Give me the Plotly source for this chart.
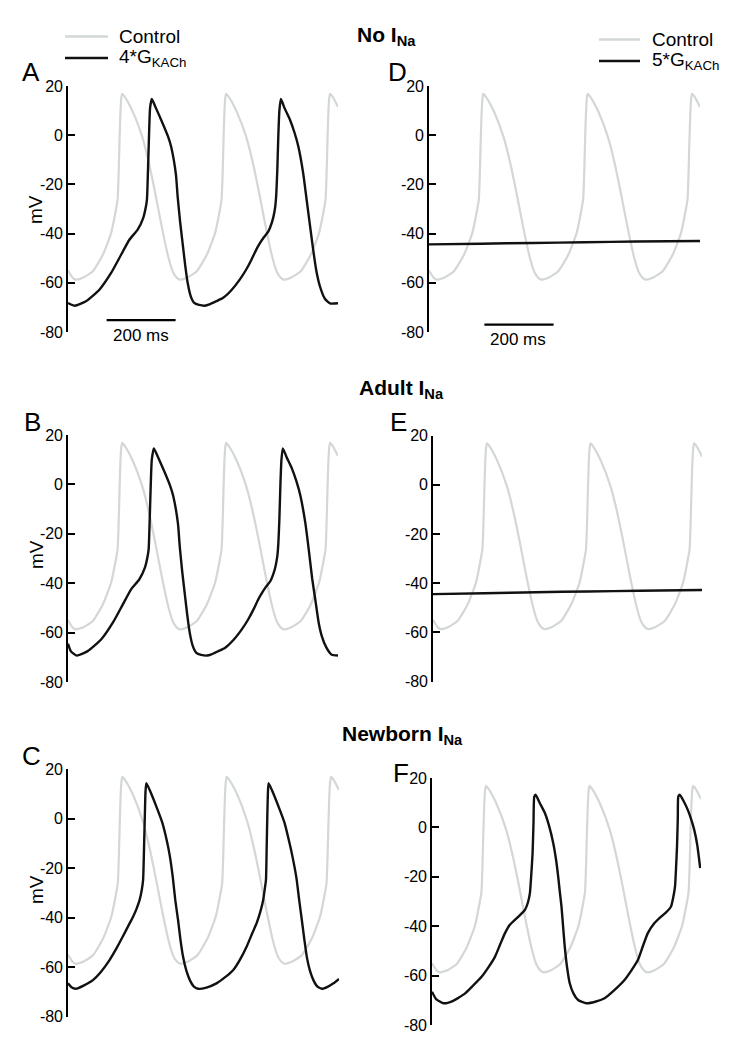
import plotly.graph_objects as go

# ---------------- data ----------------
# time in ms, membrane potential in mV
control_pts = [(0, -55), (14, -58), (23, -58.7), (45, -57.8), (72, -55.3), (101, -48.6), (125, -39.8),
               (139, -30.3), (144, -26), (147, -15), (149.5, -2), (152, 9), (154.5, 15), (157, 16.8),
               (165, 15.5), (188, 9.5), (216, -1), (235, -11.5), (255, -25), (266, -33), (276, -40),
               (290, -49), (304, -55.5), (316, -58), (325, -58.7), (346.5, -57.8), (373.5, -55.3),
               (402.5, -48.6), (426.5, -39.8), (440.5, -30.3), (445.5, -26), (448.5, -15), (451, -2),
               (453.5, 9), (456, 15), (458.5, 16.8), (466.5, 15.5), (489.5, 9.5), (517.5, -1), (536.5, -11.5),
               (556.5, -25), (567.5, -33), (577.5, -40), (591.5, -49), (605.5, -55.5), (617.5, -58),
               (626.5, -58.7), (648, -57.8), (675, -55.3), (704, -48.6), (728, -39.8), (742, -30.3),
               (747, -26), (750, -15), (752.5, -2), (755, 9), (757.5, 15), (760, 16.8), (768, 15.5),
               (783, 11.5)]

# A: No INa, 4*GKACh
a_pts = [(0, -68.2), (20, -69.3), (52, -67.5), (91, -62.8), (125, -56), (154, -48.6), (178, -42.5),
         (202, -38.4), (218, -33.7), (226, -29), (229, -26), (232, -14), (235, 0), (238, 11), (243, 14.7),
         (252, 12), (274, 5), (290, -0.5), (299, -4.6), (313, -16), (318, -25), (325, -35), (332, -43.5),
         (340, -53), (347, -60), (356, -65.5), (366, -68.2), (380, -69), (397, -69.3), (410, -68.8),
         (430, -67.5), (450, -66.1), (475, -62.8), (498, -58.7), (516, -54.8), (532, -50.6), (546, -46.5),
         (557, -43.8), (568, -41.5), (581, -39.1), (590, -36), (596, -33), (601, -29), (604, -24), (607, -14),
         (610, 0), (613, 10), (617.5, 14.7), (628, 11), (644, 6.2), (657, 1), (668, -4.6), (682, -15.4),
         (692, -26.2), (702, -37), (711, -46.5), (720, -55), (730.5, -61.4), (745, -66.5), (760, -68.4),
         (783, -68.3)]

# B: Adult INa, 4*GKACh
b_pts = [(0, -64.5), (8, -67.5), (25, -69.3), (57, -67.5), (96, -62.8), (130, -56), (159, -48.6),
         (183, -42.5), (207, -38.4), (223, -33.7), (231, -29), (234, -26), (237, -14), (240, 0), (243, 10),
         (249, 14.6), (258, 12), (280, 5), (296, -0.5), (305, -4.6), (319, -16), (324, -25), (331, -35),
         (338, -43.5), (346, -53), (353, -60), (362, -65.5), (372, -68.2), (386, -69), (403, -69.3),
         (416, -68.8), (436, -67.5), (456, -66.1), (481, -62.8), (504, -58.7), (522, -54.8), (538, -50.6),
         (552, -46.5), (563, -43.8), (574, -41.5), (587, -39.1), (596, -36), (602, -33), (607, -29),
         (610, -24), (613, -14), (616, 0), (619, 10), (623, 14.6), (634, 11), (650, 6.2), (663, 1),
         (674, -4.6), (688, -15.4), (698, -26.2), (708, -38), (717, -46.5), (727, -56), (736, -61.4),
         (749, -66), (765, -69), (783, -69.3)]

# C: Newborn INa, 4*GKACh
c_pts = [(0, -66.6), (10, -68.2), (23, -68.8), (45, -67.5), (72, -65.3), (96, -61.8), (120, -57.2),
         (140, -52.5), (158, -47.8), (175, -43.2), (188, -39.7), (198, -36.5), (207, -32.9), (213, -29),
         (217, -24.8), (220, -10), (222.5, 4), (224, 11), (226.5, 14.3), (236, 11.5), (257, 4.2),
         (272, -1.5), (286, -9.3), (294, -15), (303, -24), (310, -33), (318, -41), (325, -49),
         (332.5, -55.9), (342, -61.5), (352, -65.3), (363, -67.8), (376, -68.8), (400, -68.3), (429, -66.6),
         (455, -64), (477.5, -61.2), (497, -57), (516, -51.8), (532, -46.5), (545, -42.3), (556, -37.5),
         (564, -32.9), (568, -29), (572, -24.8), (574, -12), (576, 2), (577.5, 10), (579.5, 14.3),
         (589, 11.5), (610, 4.2), (625, -1.5), (639, -9.3), (648, -15), (660, -24), (668, -33),
         (675.6, -41), (683, -49), (690, -55.9), (699, -61.5), (709, -65.3), (720, -67.8), (733.5, -68.8),
         (750, -68), (767, -66.6), (783, -64.8)]

# D: No INa, 5*GKACh
d_pts = [(0, -44.4), (150, -44.1), (300, -43.8), (450, -43.5), (600, -43.2), (783, -43.0)]

# E: Adult INa, 5*GKACh
e_pts = [(0, -44.5), (150, -44.1), (300, -43.7), (450, -43.4), (600, -43.1), (783, -42.8)]

# F: Newborn INa, 5*GKACh
f_pts = [(0, -66.5), (12, -69.5), (34, -71.2), (60, -70.3), (96.5, -67.2), (120, -64), (145, -60.4),
         (165, -56.5), (183.5, -52.3), (198, -47.5), (212.5, -42.8), (226, -39.5), (241.5, -37.4),
         (256, -35.5), (270.5, -33.4), (279, -30.5), (285, -26.6), (289, -19), (292.8, -10.4), (295.5, 2),
         (297.7, 12.5), (301.5, 13.2), (314, 9.8), (328.5, 5.8), (341, 0.5), (352.8, -6.3), (361, -13),
         (367.3, -19.9), (372, -26), (376.9, -32), (381.5, -40), (386.4, -48.3), (393, -56.5), (400.9, -63.1),
         (412, -67.3), (425.3, -69.9), (449.3, -71.2), (475, -70.6), (502.4, -69.2), (530, -66),
         (560.4, -61.8), (580, -58), (599.2, -53.7), (614, -48), (628.2, -42.8), (647, -38.8),
         (666.8, -36.1), (682, -34.3), (695.8, -32), (702, -28.5), (707.4, -23.9), (710.5, -16),
         (713.2, -7.7), (715.5, 4), (716.9, 12.5), (721, 13.2), (733, 10.5), (744.2, 7.2), (754, 3.5),
         (763.3, -1), (772, -7), (780.7, -16.5)]

y_tick_vals = [-80, -60, -40, -20, 0, 20]
y_tick_text = ["-80", "-60", "-40", "-20", "0", "20"]
x_range_ms = [0, 783]
scalebar_ms = 200
panel_letters = ["A", "D", "B", "E", "C", "F"]
row_titles = ["No I<sub>Na</sub>", "Adult I<sub>Na</sub>", "Newborn I<sub>Na</sub>"]
legend_left = ["Control", "4*G<sub>KACh</sub>"]
legend_right = ["Control", "5*G<sub>KACh</sub>"]
y_label = "mV"

# ---------------- styling / layout ----------------
W, H = 744, 1050
FONT = "Liberation Sans, Arial, Helvetica, sans-serif"
GRAY = "#d3d7d7"
BLACK = "#111111"


def fx(p):
    return p / W


def fy(p):
    return 1 - p / H


# (x-domain px, y-domain px top/bottom, black trace data)
panel_geom = [
    ((68, 338), (86, 332), a_pts),
    ((429, 700), (86, 332), d_pts),
    ((68, 338), (435, 682), b_pts),
    ((433, 702), (435.5, 681.5), e_pts),
    ((68, 339), (769, 1016.5), c_pts),
    ((432, 701), (778, 1025), f_pts),
]

fig = go.Figure()
layout = dict(
    width=W, height=H,
    margin=dict(l=0, r=0, t=0, b=0),
    paper_bgcolor="white", plot_bgcolor="rgba(0,0,0,0)",
    showlegend=False,
    font=dict(family=FONT, color="black"),
)

ct = [p[0] for p in control_pts]
cv = [p[1] for p in control_pts]

for i, ((x0, x1), (ytop, ybot), pts) in enumerate(panel_geom):
    n = i + 1
    xa = "x" if n == 1 else f"x{n}"
    ya = "y" if n == 1 else f"y{n}"
    fig.add_trace(go.Scatter(x=ct, y=cv, mode="lines", xaxis=xa, yaxis=ya,
                             line=dict(color=GRAY, width=2.2, shape="spline", smoothing=0.5),
                             hoverinfo="skip", name="Control"))
    fig.add_trace(go.Scatter(x=[p[0] for p in pts], y=[p[1] for p in pts], mode="lines",
                             xaxis=xa, yaxis=ya,
                             line=dict(color=BLACK, width=2.4, shape="spline", smoothing=0.5),
                             hoverinfo="skip", name="GKACh"))
    layout["xaxis" if n == 1 else f"xaxis{n}"] = dict(
        domain=[fx(x0), fx(x1)], range=x_range_ms, visible=False,
        anchor=ya, fixedrange=True)
    layout["yaxis" if n == 1 else f"yaxis{n}"] = dict(
        domain=[fy(ybot), fy(ytop)], range=[-80, 20], anchor=xa,
        showline=True, linecolor="black", linewidth=1.6, mirror=False,
        ticks="inside", ticklen=7, tickwidth=1.6, tickcolor="black",
        tickvals=y_tick_vals, ticktext=y_tick_text,
        tickfont=dict(size=16, family=FONT, color="black"),
        ticklabelstandoff=0,
        showgrid=False, zeroline=False, automargin=False, fixedrange=True)

annotations = []
shapes = []

# panel letters
letter_pos = [(31, 72), (397, 72), (32, 422), (398, 422), (31, 756), (401, 773)]
for letter, (lx, ly) in zip(panel_letters, letter_pos):
    annotations.append(dict(text=letter, x=fx(lx), y=fy(ly), xref="paper", yref="paper",
                            showarrow=False, xanchor="center", yanchor="middle",
                            font=dict(size=26, family=FONT, color="black")))

# row titles
title_pos = [(386, 36), (401, 389), (402, 735)]
for t, (tx, ty) in zip(row_titles, title_pos):
    annotations.append(dict(text=f"<b>{t}</b>", x=fx(tx), y=fy(ty), xref="paper", yref="paper",
                            showarrow=False, xanchor="center", yanchor="middle",
                            font=dict(size=21, family=FONT, color="black")))

# mV labels (left column)
for my in (210, 555, 890):
    annotations.append(dict(text=y_label, x=fx(36), y=fy(my), xref="paper", yref="paper",
                            showarrow=False, textangle=-90, xanchor="center", yanchor="middle",
                            font=dict(size=19, family=FONT, color="black")))

# legends (line samples + labels)
for labels, (lx0, lx1, tx), (y1, y2) in [
    (legend_left, (65, 108, 117), (36.5, 58)),
    (legend_right, (599, 640, 650), (39.5, 61)),
]:
    for lab, col, yy in [(labels[0], GRAY, y1), (labels[1], BLACK, y2)]:
        shapes.append(dict(type="line", xref="paper", yref="paper",
                           x0=fx(lx0), x1=fx(lx1), y0=fy(yy), y1=fy(yy),
                           line=dict(color=col, width=2.6)))
        annotations.append(dict(text=lab, x=fx(tx), y=fy(yy), xref="paper", yref="paper",
                                showarrow=False, xanchor="left", yanchor="middle",
                                font=dict(size=19, family=FONT, color="black")))

# scale bars (200 ms) in data coordinates of panels A and D
for xa, ya, start, ybar, (txx, tyy) in [("x", "y", 112, -75.2, (141, 335)),
                                        ("x2", "y2", 160, -77.0, (518, 339))]:
    shapes.append(dict(type="line", xref=xa, yref=ya, x0=start, x1=start + scalebar_ms,
                       y0=ybar, y1=ybar, line=dict(color="black", width=2.2)))
    annotations.append(dict(text=f"{scalebar_ms} ms", x=fx(txx), y=fy(tyy), xref="paper", yref="paper",
                            showarrow=False, xanchor="center", yanchor="middle",
                            font=dict(size=17, family=FONT, color="black")))

layout["annotations"] = annotations
layout["shapes"] = shapes
fig.update_layout(**layout)

fig.write_html("out.html", config={"displayModeBar": False},
               post_script="document.body.style.margin='0';document.body.style.padding='0';")
